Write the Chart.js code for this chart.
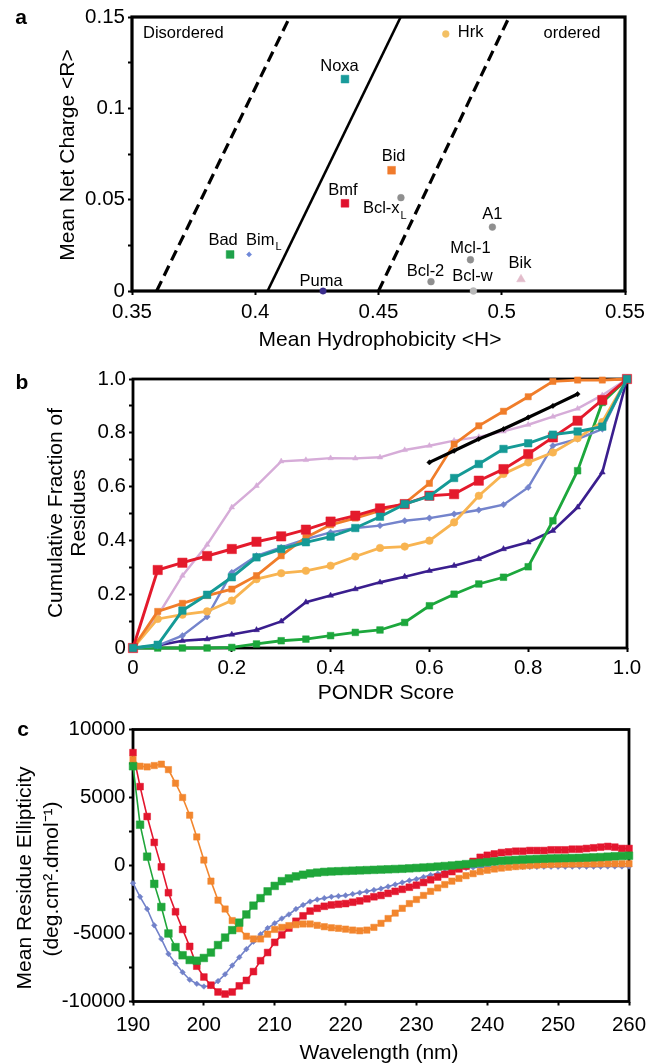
<!DOCTYPE html>
<html>
<head>
<meta charset="utf-8">
<script src="https://cdn.jsdelivr.net/npm/chart.js@4.4.1/dist/chart.umd.min.js"></script>
<style>
  body { margin: 0; background: #fff; }
  canvas { position: absolute; left: 0; }
</style>
</head>
<body>
<canvas id="chartA" width="654" height="352" style="top:0px"></canvas>
<canvas id="chartB" width="654" height="356" style="top:352px"></canvas>
<canvas id="chartC" width="654" height="355" style="top:708px"></canvas>
<script>
// ---- panel a: charge / hydrophobicity ----
const proteins = ['Noxa', 'Bmf', 'Bad', 'Bim', 'Puma', 'Hrk', 'Bid', 'Bcl-x', 'A1', 'Mcl-1', 'Bcl-2', 'Bcl-w', 'Bik'];
const proteinSub = ['', '', '', 'L', '', '', '', 'L', '', '', '', '', ''];
const meanHydrophobicity = [0.4364, 0.4364, 0.3898, 0.3975, 0.4275, 0.4773, 0.4553, 0.4591, 0.4962, 0.4873, 0.4713, 0.4885, 0.5078];
const meanNetCharge = [0.116, 0.048, 0.020, 0.020, 0, 0.1407, 0.0661, 0.0511, 0.0350, 0.0171, 0.0051, 0, 0.0064];
const boundaryCharge = [0, 0.15];
const leftBoundaryH = [0.360, 0.414];
const midBoundaryH = [0.405, 0.459];
const rightBoundaryH = [0.450, 0.503];

// ---- panel b: PONDR cumulative distributions ----
const pondrScore = [0, 0.05, 0.1, 0.15, 0.2, 0.25, 0.3, 0.35, 0.4, 0.45, 0.5, 0.55, 0.6, 0.65, 0.7, 0.75, 0.8, 0.85, 0.9, 0.95, 1.0];
const cumBmf  = [0, 0.29, 0.317, 0.342, 0.368, 0.395, 0.415, 0.44, 0.47, 0.492, 0.519, 0.535, 0.566, 0.572, 0.622, 0.665, 0.721, 0.783, 0.845, 0.922, 1.0];
const cumBid  = [0, 0.136, 0.166, 0.195, 0.219, 0.269, 0.343, 0.411, 0.458, 0.483, 0.511, 0.538, 0.612, 0.758, 0.826, 0.88, 0.934, 0.991, 0.996, 0.996, 1.0];
const cumNoxa = [0, 0.012, 0.139, 0.198, 0.263, 0.337, 0.368, 0.393, 0.414, 0.446, 0.488, 0.535, 0.564, 0.632, 0.684, 0.74, 0.761, 0.793, 0.805, 0.823, 1.0];
const cumHrk  = [0, 0.108, 0.124, 0.136, 0.176, 0.256, 0.278, 0.287, 0.306, 0.34, 0.372, 0.377, 0.399, 0.467, 0.566, 0.647, 0.69, 0.727, 0.78, 0.84, 1.0];
const cumBimL = [0, 0.009, 0.046, 0.116, 0.281, 0.343, 0.374, 0.405, 0.43, 0.446, 0.455, 0.473, 0.483, 0.498, 0.513, 0.533, 0.597, 0.752, 0.777, 0.814, 1.0];
const cumPuma = [0, 0.009, 0.027, 0.033, 0.05, 0.067, 0.099, 0.17, 0.195, 0.219, 0.244, 0.265, 0.287, 0.306, 0.331, 0.368, 0.393, 0.436, 0.523, 0.653, 1.0];
const cumBad  = [0, 0, 0, 0, 0.002, 0.015, 0.027, 0.033, 0.046, 0.058, 0.067, 0.095, 0.157, 0.2, 0.238, 0.263, 0.302, 0.473, 0.659, 0.913, 1.0];
const cumBik  = [0, 0.12, 0.269, 0.384, 0.523, 0.603, 0.694, 0.699, 0.706, 0.705, 0.709, 0.736, 0.752, 0.771, 0.785, 0.805, 0.83, 0.86, 0.89, 0.94, 1.0];
const cumBlack = [null, null, null, null, null, null, null, null, null, null, null, null, 0.69, 0.733, 0.777, 0.814, 0.857, 0.9, 0.944, null, null];

// ---- panel c: CD spectra ----
const wavelength = [190, 191, 192, 193, 194, 195, 196, 197, 198, 199, 200, 201, 202, 203, 204, 205, 206, 207, 208, 209,
  210, 211, 212, 213, 214, 215, 216, 217, 218, 219, 220, 221, 222, 223, 224, 225, 226, 227, 228, 229,
  230, 231, 232, 233, 234, 235, 236, 237, 238, 239, 240, 241, 242, 243, 244, 245, 246, 247, 248, 249,
  250, 251, 252, 253, 254, 255, 256, 257, 258, 259, 260];
const cdOrange = [7800, 7300, 7250, 7350, 7450, 7050, 6050, 5000, 3700, 2100, 400, -1150, -2550, -3200, -4050, -4650, -5200, -5400, -5400, -5050,
  -4700, -4550, -4420, -4350, -4300, -4300, -4400, -4500, -4580, -4620, -4680, -4750, -4800, -4750, -4550, -4250, -3900, -3500, -3150, -2800,
  -2500, -2200, -1900, -1650, -1400, -1150, -950, -750, -600, -450, -350, -260, -190, -130, -80, -40, 0, 30, 60, 80,
  100, 110, 110, 120, 120, 120, 130, 130, 130, 130, 130];
const cdRed = [8300, 5800, 3600, 1700, -100, -2000, -3400, -4700, -5950, -7400, -8200, -8800, -9300, -9450, -9300, -8850, -8450, -7800, -7000, -6400,
  -5650, -5100, -4600, -4100, -3700, -3350, -3150, -3000, -2900, -2850, -2800, -2700, -2600, -2450, -2300, -2200, -2050, -1900, -1750, -1600,
  -1450, -1250, -1050, -850, -650, -450, -250, -50, 300, 600, 750, 850, 950, 1000, 1050, 1050, 1100, 1100, 1100, 1150,
  1150, 1150, 1200, 1200, 1250, 1300, 1350, 1400, 1350, 1250, 1250];
const cdGreen = [7300, 3000, 650, -1350, -3050, -5000, -6000, -6600, -6950, -7000, -6800, -6400, -5850, -5300, -4750, -4200, -3600, -2950, -2400, -1900,
  -1500, -1150, -950, -800, -680, -580, -520, -470, -440, -420, -400, -380, -360, -340, -320, -300, -280, -260, -240, -210,
  -180, -150, -120, -80, -40, 0, 50, 100, 150, 200, 250, 300, 350, 380, 410, 440, 460, 480, 500, 520,
  530, 540, 550, 560, 580, 600, 620, 650, 680, 700, 720];
const cdBlue = [-1300, -2300, -3200, -4400, -5400, -6500, -7200, -7850, -8400, -8700, -8900, -8850, -8500, -8000, -7350, -6750, -6150, -5600, -5050, -4600,
  -4250, -3900, -3600, -3200, -2900, -2650, -2500, -2400, -2300, -2250, -2200, -2100, -2000, -1900, -1800, -1700, -1550, -1400, -1250, -1100,
  -1000, -850, -700, -600, -480, -350, -250, -180, -150, -130, -120, -120, -110, -110, -100, -100, -100, -100, -90, -90,
  -90, -90, -80, -80, -80, -80, -80, -70, -70, -70, -70];

const FONT = "'Liberation Sans', Arial, Helvetica, sans-serif";
Chart.defaults.font.family = FONT;
Chart.defaults.font.size = 20;
Chart.defaults.color = '#000';
Chart.defaults.animation = false;

// black box round the plot area
const framePlugin = {
  id: 'frame',
  beforeDatasetsDraw(chart, args, opts) {
    const a = chart.chartArea, ctx = chart.ctx;
    ctx.save();
    ctx.strokeStyle = '#000';
    ctx.lineWidth = opts.width || 2.5;
    ctx.strokeRect(a.left, a.top, a.right - a.left, a.bottom - a.top);
    ctx.restore();
  }
};

// axis titles, panel letters and region notes
const textPlugin = {
  id: 'panelText',
  afterDraw(chart, args, opts) {
    const ctx = chart.ctx;
    (opts.items || []).forEach(it => {
      ctx.save();
      ctx.font = it.font || ('21px ' + FONT);
      ctx.fillStyle = '#000';
      ctx.textAlign = it.align || 'center';
      ctx.textBaseline = 'middle';
      ctx.translate(it.x, it.y);
      if (it.rotate) ctx.rotate(-Math.PI / 2);
      ctx.fillText(it.text, 0, 0);
      ctx.restore();
    });
  }
};

function tickAxis(min, max, step, pad, label, fit) {
  return {
    type: 'linear', min: min, max: max,
    border: { display: false },
    grid: { drawOnChartArea: false, drawTicks: true, tickLength: 4, tickWidth: 2, tickColor: '#000' },
    ticks: { stepSize: step, padding: pad, color: '#000', font: { size: 20.5 }, autoSkip: false, maxRotation: 0, callback: label },
    afterFit: fit
  };
}
const isMultiple = (v, m) => Math.abs(v / m - Math.round(v / m)) < 1e-6;

// ================= panel a =================
const markerStyle = ['rect', 'rect', 'rect', 'rectRot', 'circle', 'circle', 'rect', 'circle', 'circle', 'circle', 'circle', 'circle', 'triangle'];
const markerRadius = [5.5, 5.5, 5.5, 2.6, 3.2, 3.4, 5.5, 3.4, 3.4, 3.4, 3.4, 3.4, 5];
const markerColor = ['#189b9b', '#e0112d', '#1fa24a', '#6f88d8', '#3b2d8c', '#f3c064', '#f07b2c', '#8f8f8f', '#8f8f8f', '#8f8f8f', '#8f8f8f', '#b8b8b8', '#e2bccb'];
const labelOffsets = [[-5.5, -13, 'c'], [-2, -12.5, 'c'], [-7, -14.5, 'c'], [-3, -14.5, 'l'], [-2, -9.5, 'c'], [12, -1.8, 'l'], [2, -14, 'c'],
  [-38, 11, 'l'], [0, -12.5, 'c'], [0, -11, 'c'], [-5.5, -10, 'c'], [-1, -14.5, 'c'], [-1, -16, 'c']];

const pointLabelPlugin = {
  id: 'pointLabels',
  afterDatasetsDraw(chart) {
    const ctx = chart.ctx;
    const pts = chart.getDatasetMeta(0).data;
    ctx.save();
    ctx.fillStyle = '#000';
    ctx.textBaseline = 'middle';
    ctx.textAlign = 'left';
    proteins.forEach((name, i) => {
      const o = labelOffsets[i], p = pts[i];
      ctx.font = '16.5px ' + FONT;
      const w = ctx.measureText(name).width;
      ctx.font = '11px ' + FONT;
      const sw = proteinSub[i] ? ctx.measureText(proteinSub[i]).width + 1 : 0;
      const left = o[2] === 'l' ? p.x + o[0] : p.x + o[0] - (w + sw) / 2;
      const y = p.y + o[1];
      ctx.font = '16.5px ' + FONT;
      ctx.fillText(name, left, y);
      if (proteinSub[i]) {
        ctx.font = '11px ' + FONT;
        ctx.fillText(proteinSub[i], left + w + 1, y + 7);
      }
    });
    ctx.restore();
  }
};

function boundary(hs, dash, width) {
  return {
    data: hs.map((h, i) => ({ x: h, y: boundaryCharge[i] })),
    showLine: true, borderColor: '#000', borderWidth: width, borderDash: dash,
    pointRadius: 0, clip: false
  };
}

new Chart(document.getElementById('chartA'), {
  type: 'scatter',
  data: {
    datasets: [
      {
        data: proteins.map((n, i) => ({ x: meanHydrophobicity[i], y: meanNetCharge[i] })),
        pointStyle: markerStyle, pointRadius: markerRadius,
        backgroundColor: markerColor, borderColor: markerColor, borderWidth: 0.5, clip: false
      },
      boundary(leftBoundaryH, [11, 6], 3.2),
      boundary(midBoundaryH, [], 2.6),
      boundary(rightBoundaryH, [11, 6], 3.2)
    ]
  },
  options: {
    responsive: false,
    layout: { padding: { top: 17, right: 29, left: 0, bottom: 0 } },
    plugins: {
      legend: { display: false }, tooltip: { enabled: false },
      frame: { width: 3.2 },
      panelText: {
        items: [
          { text: 'a', x: 21, y: 18, font: 'bold 21px ' + FONT },
          { text: 'Mean Net Charge <R>', x: 68, y: 155, rotate: true },
          { text: 'Mean Hydrophobicity <H>', x: 380, y: 340 },
          { text: 'Disordered', x: 143, y: 33, align: 'left', font: '16.5px ' + FONT },
          { text: 'ordered', x: 572, y: 33, font: '16.5px ' + FONT }
        ]
      }
    },
    scales: {
      x: tickAxis(0.35, 0.55, 0.05, 5, v => String(+v.toFixed(3)), s => { s.height = 61; }),
      y: tickAxis(0, 0.15, 0.025, 3, v => isMultiple(v, 0.05) ? String(+v.toFixed(3)) : '', s => { s.width = 132; })
    }
  },
  plugins: [framePlugin, pointLabelPlugin, textPlugin]
});

// ================= panel b =================
function cumSeries(values, color, style, radius, width) {
  return {
    data: pondrScore.map((x, i) => ({ x: x, y: values[i] })),
    borderColor: color, backgroundColor: color, pointBorderColor: color,
    borderWidth: width, pointStyle: style, pointRadius: radius, pointBorderWidth: 0.5,
    clip: false, tension: 0
  };
}

new Chart(document.getElementById('chartB'), {
  type: 'line',
  data: {
    datasets: [
      cumSeries(cumBlack, '#000000', 'rectRot', 2.6, 3.2),
      cumSeries(cumNoxa, '#159a96', 'rect', 5.3, 2.9),
      cumSeries(cumBmf, '#e41a2c', 'rect', 6.6, 2.9),
      cumSeries(cumBid, '#f07d2a', 'rect', 4.4, 2.8),
      cumSeries(cumHrk, '#f8b451', 'circle', 3.8, 2.8),
      cumSeries(cumBimL, '#7484cc', 'rectRot', 3.2, 2.4),
      cumSeries(cumBad, '#1ca73c', 'rect', 4.7, 2.8),
      cumSeries(cumPuma, '#3a1e8e', 'triangle', 3.4, 2.6),
      cumSeries(cumBik, '#d6acd8', 'triangle', 3.2, 2.4)
    ]
  },
  options: {
    responsive: false,
    layout: { padding: { top: 27, right: 27, left: 0, bottom: 0 } },
    plugins: {
      legend: { display: false }, tooltip: { enabled: false },
      frame: { width: 2.8 },
      panelText: {
        items: [
          { text: 'b', x: 22, y: 31, font: 'bold 21px ' + FONT },
          { text: 'Cumulative Fraction of', x: 56, y: 161, rotate: true },
          { text: 'Residues', x: 79, y: 161, rotate: true },
          { text: 'PONDR Score', x: 386, y: 341 }
        ]
      }
    },
    scales: {
      x: tickAxis(0, 1, 0.2, 4, v => v === 0 ? '0' : v.toFixed(1), s => { s.height = 60; }),
      y: tickAxis(0, 1, 0.1, 3, v => isMultiple(v, 0.2) ? (v === 0 ? '0' : v.toFixed(1)) : '', s => { s.width = 133; })
    }
  },
  plugins: [framePlugin, textPlugin]
});

// ================= panel c =================
function cdSeries(values, color, style, radius) {
  return {
    data: wavelength.map((x, i) => ({ x: x, y: values[i] })),
    borderColor: color, backgroundColor: color, pointBorderColor: color,
    borderWidth: 1.6, pointStyle: style, pointRadius: radius, pointBorderWidth: 0.5,
    clip: false, tension: 0
  };
}

new Chart(document.getElementById('chartC'), {
  type: 'line',
  data: {
    datasets: [
      cdSeries(cdGreen, '#1fa63a', 'rect', 5.4),
      cdSeries(cdOrange, '#f2862e', 'rect', 4.5),
      cdSeries(cdRed, '#e3162e', 'rect', 4.8),
      cdSeries(cdBlue, '#7181c9', 'rectRot', 2.8)
    ]
  },
  options: {
    responsive: false,
    layout: { padding: { top: 21.5, right: 25, left: 0, bottom: 0 } },
    plugins: {
      legend: { display: false }, tooltip: { enabled: false },
      frame: { width: 2.8 },
      panelText: {
        items: [
          { text: 'c', x: 23, y: 22, font: 'bold 21px ' + FONT },
          { text: 'Mean Residue Ellipticity', x: 25, y: 170, rotate: true },
          { text: '(deg.cm\u00b2.dmol\u207b\u00b9)', x: 52, y: 171, rotate: true },
          { text: 'Wavelength (nm)', x: 379, y: 345 }
        ]
      }
    },
    scales: {
      x: tickAxis(190, 260, 10, 7.5, v => String(v), s => { s.height = 61.5; }),
      y: tickAxis(-10000, 10000, 2500, 3.5, v => isMultiple(v, 5000) ? String(v) : '', s => { s.width = 133; })
    }
  },
  plugins: [framePlugin, textPlugin]
});
</script>
</body>
</html>
